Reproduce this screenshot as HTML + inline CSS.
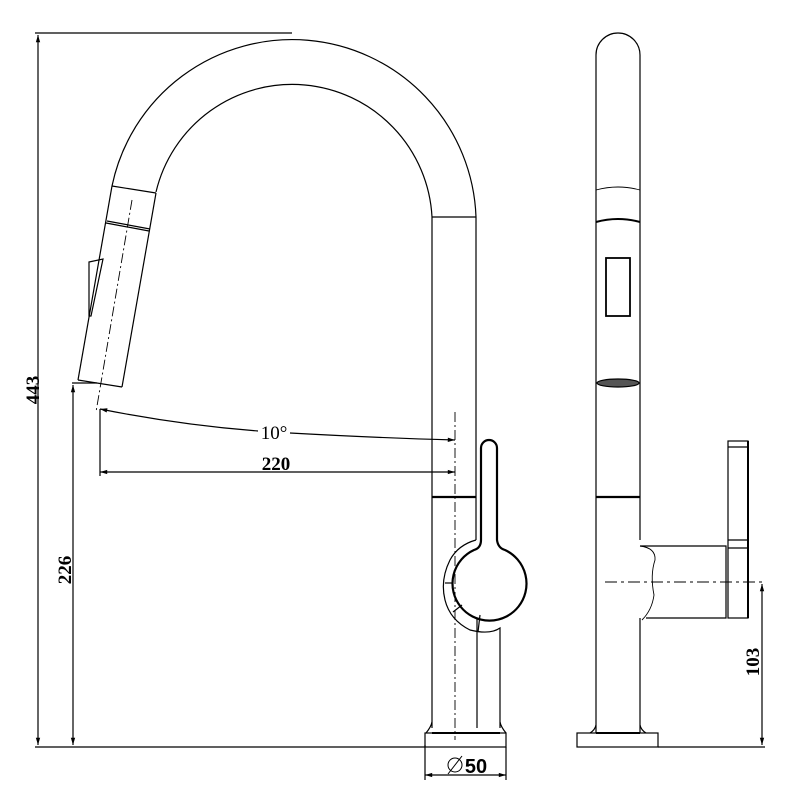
<!DOCTYPE html>
<html><head><style>html,body{margin:0;padding:0;background:#fff}svg{display:block}</style></head>
<body>
<svg width="800" height="800" viewBox="0 0 800 800" xmlns="http://www.w3.org/2000/svg" fill="none" stroke="#000" stroke-width="1.2" font-family="'Liberation Serif', serif">
<defs>
<marker id="a" viewBox="0 0 10 10" refX="10" refY="5" markerWidth="8" markerHeight="6" orient="auto-start-reverse"><path d="M0,2 L10,5 L0,8 z" fill="#000" stroke="none"/></marker>
</defs>
<path d="M112,186 A184,184 0 0 1 476,217"/>
<path d="M156,192 A140,140 0 0 1 432,217"/>
<line x1="432" y1="217" x2="476" y2="217"/>
<line x1="432" y1="217" x2="432" y2="728"/>
<line x1="476" y1="217" x2="476" y2="540"/>
<line x1="432" y1="497" x2="476" y2="497" stroke-width="2.2"/>
<line x1="112" y1="186" x2="78" y2="380"/>
<line x1="156" y1="193" x2="122" y2="387"/>
<line x1="112" y1="186" x2="156" y2="193"/>
<line x1="107" y1="221" x2="150" y2="229"/>
<line x1="106" y1="223" x2="149" y2="231"/>
<line x1="78" y1="380" x2="122" y2="387"/>
<line x1="132" y1="200" x2="96" y2="412" stroke-dasharray="10,3,2,3" stroke-width="0.9"/>
<path d="M89,262 L103,259 L91,316 L89,316 Z"/>
<path d="M481,448 A8,8 0 0 1 497,448 L497,540 Q498,548 505,550 A37,37 0 1 1 474,550 Q481,548 481,540 Z" stroke-width="2.2"/>
<path d="M476,540 Q458,545 450,560 Q440,580 445,600 Q450,620 470,630 Q490,635 500,628 L500,728"/>
<path d="M453,612 L462,605"/><path d="M478,632 L480,615"/><path d="M445,583 L453,583"/>
<line x1="477" y1="618" x2="477" y2="728"/>
<path d="M432,722 Q431,727 426,733 M500,722 Q501,727 506,733"/>
<rect x="425" y="733" width="81" height="14"/>
<line x1="432" y1="733" x2="500" y2="733" stroke-width="2"/>
<line x1="455" y1="412" x2="455" y2="740" stroke-dasharray="10,3,2,3" stroke-width="0.9"/>
<line x1="35" y1="33" x2="292" y2="33"/>
<line x1="38" y1="35" x2="38" y2="745" marker-start="url(#a)" marker-end="url(#a)"/>
<line x1="35" y1="747" x2="425" y2="747"/>
<line x1="72" y1="383" x2="97" y2="383"/>
<line x1="73" y1="385" x2="73" y2="745" marker-start="url(#a)" marker-end="url(#a)"/>
<line x1="100" y1="409" x2="100" y2="476"/>
<line x1="100" y1="472" x2="455" y2="472" marker-start="url(#a)" marker-end="url(#a)"/>
<path d="M100,409 Q180,425 258,431" marker-start="url(#a)"/>
<path d="M290,433 Q380,438 455,440" marker-end="url(#a)"/>
<line x1="425" y1="745" x2="425" y2="780"/><line x1="506" y1="747" x2="506" y2="780"/>
<line x1="425" y1="775" x2="506" y2="775" marker-start="url(#a)" marker-end="url(#a)"/>
<g fill="#000" stroke="none" font-size="19">
<text x="274" y="439" text-anchor="middle">10°</text>
<text x="276" y="470" text-anchor="middle" font-weight="bold">220</text>
<text transform="translate(39,390) rotate(-90)" text-anchor="middle" font-weight="bold">443</text>
<text transform="translate(71,570) rotate(-90)" text-anchor="middle" font-weight="bold">226</text>
<text transform="translate(759,662) rotate(-90)" text-anchor="middle" font-weight="bold">103</text>
<text x="476" y="773" text-anchor="middle" font-weight="bold" font-family="'Liberation Sans', sans-serif" font-size="20">50</text>
</g>
<circle cx="455" cy="765" r="7" stroke-width="1"/><line x1="448" y1="774" x2="462" y2="756" stroke-width="1"/>
<path d="M596,733 L596,55 A22,22 0 0 1 640,55 L640,540"/>
<path d="M640,618 L640,733"/>
<path d="M596,190 Q618,184 640,190" stroke-width="0.9"/>
<path d="M596,222 Q618,216 640,222" stroke-width="2"/>
<rect x="606" y="258" width="24" height="58" stroke-width="1.8"/>
<ellipse cx="618" cy="383" rx="21" ry="4" fill="#555"/>
<line x1="596" y1="497" x2="640" y2="497" stroke-width="2.2"/>
<path d="M640,546 Q656,548 655,560 Q650,575 654,595 Q652,610 642,620" stroke-width="0.9"/>
<path d="M640,546 L726,546 L726,618 L646,618"/>
<rect x="728" y="441" width="20" height="177"/>
<line x1="728" y1="447" x2="748" y2="447"/><line x1="728" y1="540" x2="748" y2="540"/><line x1="728" y1="548" x2="748" y2="548"/>
<line x1="748" y1="441" x2="748" y2="618" stroke-width="2"/>
<line x1="605" y1="582" x2="765" y2="582" stroke-dasharray="12,4,3,4" stroke-width="0.9"/>
<line x1="762" y1="584" x2="762" y2="745" marker-start="url(#a)" marker-end="url(#a)"/>
<line x1="658" y1="747" x2="765" y2="747"/>
<path d="M596,725 Q595,730 590,733 M640,725 Q641,730 646,733"/>
<rect x="577" y="733" width="81" height="14"/>
<line x1="596" y1="733" x2="640" y2="733" stroke-width="2"/>
</svg>
</body></html>
